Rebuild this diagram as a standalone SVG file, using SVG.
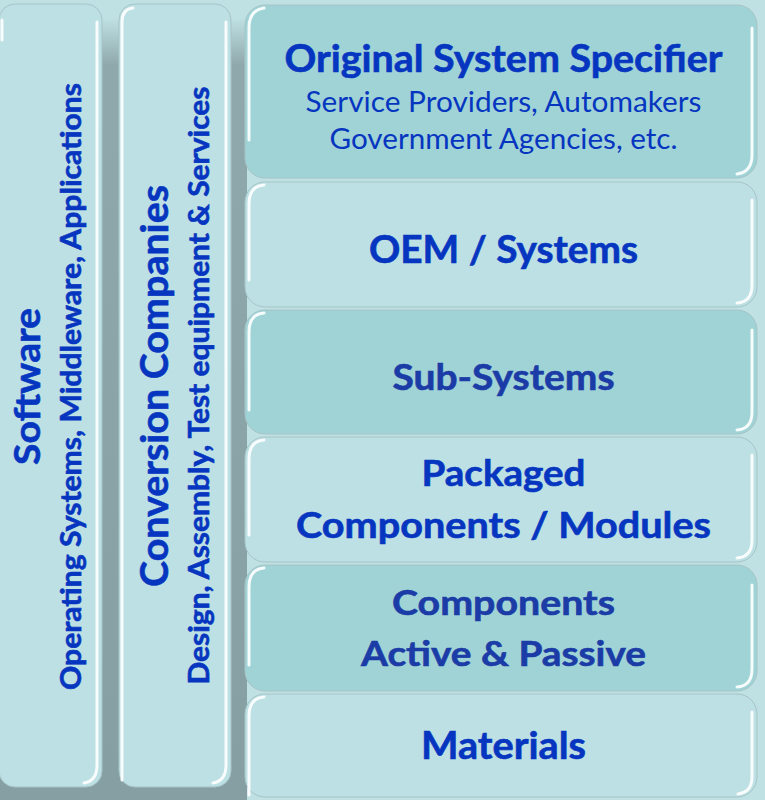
<svg xmlns="http://www.w3.org/2000/svg" width="765" height="800" viewBox="0 0 765 800">
<defs>
<linearGradient id="shadow" x1="0" y1="0" x2="0" y2="1">
<stop offset="0" stop-color="#8aa2a6" stop-opacity="0"/>
<stop offset="0.06" stop-color="#8aa2a6" stop-opacity="0.9"/>
<stop offset="1" stop-color="#869fa3" stop-opacity="1"/>
</linearGradient>
<style>
.bg{fill:#bfe1e3}
.light{fill:#bce0e3;stroke:#a7c4c7;stroke-width:1}
.dark{fill:#9fd3d6;stroke:#a7c4c7;stroke-width:1}
.hl{fill:none;stroke:#ffffff;stroke-width:3;stroke-linecap:round;opacity:0.9}
.t{font-family:Lato,"Open Sans","Liberation Sans",sans-serif;fill:#0636c0;text-anchor:middle}
.b{font-weight:bold;stroke:#0636c0;stroke-width:0.6}
.r{font-weight:normal}
.m{fill:#1b3ca6;stroke:#1b3ca6}
</style>
</defs>
<rect class="bg" x="0" y="0" width="765" height="800"/>
<rect x="0" y="18" width="247" height="782" fill="url(#shadow)"/>

<g id="software">
<rect class="light" x="-1" y="4" width="103" height="783" rx="16"/>
<path class="hl" d="M2,40 L2,20"/>
<path class="hl" d="M97,22 L97,765 Q97,781 84,783"/>
<text class="t b" font-size="37" textLength="157" lengthAdjust="spacingAndGlyphs" transform="translate(40,386.5) rotate(-90)">Software</text>
<text class="t b" font-size="28" textLength="607" lengthAdjust="spacingAndGlyphs" transform="translate(81,386.5) rotate(-90)">Operating Systems, Middleware, Applications</text>
</g>

<g id="conversion">
<rect class="light" x="119" y="4" width="112" height="783" rx="16"/>
<path class="hl" d="M122,780 L122,22 Q122,9 133,8"/>
<path class="hl" d="M226,22 L226,765 Q226,781 213,783"/>
<text class="t b" font-size="38" textLength="402" lengthAdjust="spacingAndGlyphs" transform="translate(168,386) rotate(-90)">Conversion Companies</text>
<text class="t b" font-size="28" textLength="598" lengthAdjust="spacingAndGlyphs" transform="translate(209,385.5) rotate(-90)">Design, Assembly, Test equipment &amp; Services</text>
</g>

<g id="oss">
<rect class="dark" x="245" y="5" width="512" height="173" rx="20"/>
<path class="hl" d="M249,140 L249,28 Q249,10 264,8"/>
<path class="hl" d="M752,28 L752,155 Q752,172 737,174"/>
<text class="t b" font-size="38" x="503.5" y="72" textLength="438" lengthAdjust="spacingAndGlyphs">Original System Specifier</text>
<text class="t r" font-size="28" x="503.5" y="112" textLength="396" lengthAdjust="spacingAndGlyphs">Service Providers, Automakers</text>
<text class="t r" font-size="28" x="503.5" y="149" textLength="348" lengthAdjust="spacingAndGlyphs">Government Agencies, etc.</text>
</g>

<g id="oem">
<rect class="light" x="245" y="182" width="512" height="125" rx="20"/>
<path class="hl" d="M249,280 L249,204 Q249,186 264,185"/>
<path class="hl" d="M752,200 L752,285 Q752,302 737,303"/>
<text class="t b" font-size="38" x="503.5" y="263" textLength="269" lengthAdjust="spacingAndGlyphs">OEM / Systems</text>
</g>

<g id="subsystems">
<rect class="dark" x="245" y="310" width="512" height="124" rx="20"/>
<path class="hl" d="M249,410 L249,332 Q249,314 264,313"/>
<path class="hl" d="M752,330 L752,412 Q752,429 737,430"/>
<text class="t b m" font-size="36" x="503.5" y="390" textLength="222" lengthAdjust="spacingAndGlyphs">Sub-Systems</text>
</g>

<g id="packaged">
<rect class="light" x="245" y="437" width="512" height="125" rx="20"/>
<path class="hl" d="M249,535 L249,459 Q249,441 264,440"/>
<path class="hl" d="M752,455 L752,540 Q752,557 737,558"/>
<text class="t b" font-size="37" x="503.5" y="486" textLength="164" lengthAdjust="spacingAndGlyphs">Packaged</text>
<text class="t b" font-size="37" x="503.5" y="538" textLength="415" lengthAdjust="spacingAndGlyphs">Components / Modules</text>
</g>

<g id="components">
<rect class="dark" x="245" y="565" width="512" height="126" rx="20"/>
<path class="hl" d="M249,665 L249,587 Q249,569 264,568"/>
<path class="hl" d="M752,585 L752,669 Q752,686 737,687"/>
<text class="t b m" font-size="35" x="503.5" y="615" textLength="223" lengthAdjust="spacingAndGlyphs">Components</text>
<text class="t b m" font-size="35" x="503.5" y="666" textLength="285" lengthAdjust="spacingAndGlyphs">Active &amp; Passive</text>
</g>

<g id="materials">
<rect class="light" x="245" y="694" width="512" height="103" rx="20"/>
<path class="hl" d="M249,795 L249,716 Q249,698 264,697"/>
<path class="hl" d="M752,712 L752,777 Q752,792 738,794"/>
<text class="t b" font-size="38" x="503.5" y="759" textLength="165" lengthAdjust="spacingAndGlyphs">Materials</text>
</g>

<g id="connectors"/>
</svg>
